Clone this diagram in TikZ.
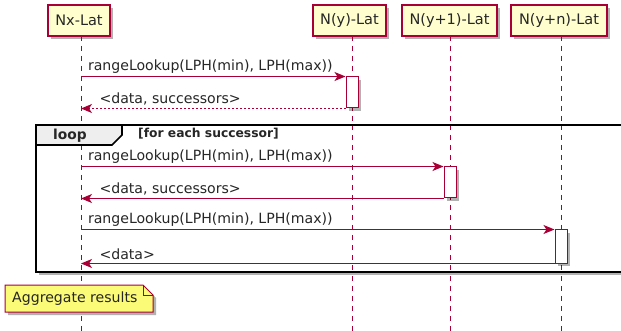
\documentclass[tikz,border=0pt]{standalone}
\usepackage{fontspec}
\setmainfont{DejaVu Sans}
\usetikzlibrary{shadows,arrows.meta}
\definecolor{pred}{HTML}{A80036}
\definecolor{pfill}{HTML}{FEFECE}
\definecolor{nfill}{HTML}{FBFB77}
\definecolor{hdrfill}{HTML}{EEEEEE}
\begin{document}
\begin{tikzpicture}[x=1pt,y=-1pt,
  shad/.style={drop shadow={shadow xshift=3pt,shadow yshift=-3pt,opacity=0.3,fill=black}},
  part/.style={draw=pred, fill=pfill, line width=1.1pt, minimum height=31pt, inner sep=0pt,
    font=\fontsize{14.5}{17}\selectfont, text=black!85, shad},
  life/.style={draw=pred, line width=0.9pt, dash pattern=on 5pt off 5pt},
  act/.style={draw=pred, fill=white, line width=1pt, minimum width=12pt, inner sep=0pt, shad},
  msg/.style={draw=pred, line width=1pt, -{Stealth[length=11pt,width=9pt,inset=3pt]}},
  ret/.style={msg, dash pattern=on 2pt off 2pt},
  lbl/.style={font=\fontsize{14.1}{16}\selectfont, text=black!85, inner sep=0pt},
  frm/.style={draw=black, line width=1.6pt}
]
\useasboundingbox (0,0) rectangle (621,331);
\fill[white] (0,0) rectangle (621,331);

% participants
\node[part, minimum width=62pt] (nx) at (79,20.5) {Nx-Lat};
\node[part, minimum width=73pt] (ny) at (349.5,20.5) {N(y)-Lat};
\node[part, minimum width=95pt] (ny1) at (449.5,20.5) {N(y+1)-Lat};
\node[part, minimum width=96pt] (nyn) at (559,20.5) {N(y+n)-Lat};

% lifelines
\coordinate (nxl) at (81,36);
\coordinate (nyl) at (352,36);
\coordinate (ny1l) at (450,36);
\coordinate (nynl) at (561,36);
\coordinate (nxb) at (81,331);
\coordinate (nyb) at (352,331);
\coordinate (ny1b) at (450,331);
\coordinate (nynb) at (561,331);
\draw[life] (nxl) -- (nxb);
\draw[life] (nyl) -- (nyb);
\draw[life] (ny1l) -- (ny1b);
\draw[life] (nynl) -- (nynb);

% loop frame (shadow + white interior)
\begin{scope}
\clip (0,0) rectangle (621,331);
\draw[frm, shad, fill=white] (36,125) rectangle (640,272);
\end{scope}
\draw[life] (81,125) -- (81,272);
\draw[life] (352,125) -- (352,272);
\draw[life] (450,125) -- (450,272);
\draw[life] (561,125) -- (561,272);
\begin{scope}
\clip (0,0) rectangle (621,331);
\draw[frm] (36,125) rectangle (640,272);
\end{scope}
\draw[frm, fill=hdrfill] (36,125) -- (122,125) -- (122,135) -- (112,145) -- (36,145) -- cycle;
\node[lbl, font=\fontsize{13.8}{16}\selectfont\bfseries] (looplbl) at (70,135.5) {loop};
\node[lbl, anchor=west, font=\fontsize{12.3}{14}\selectfont\bfseries] (cond) at (138,134) {[for each successor]};

% activations
\node[act, minimum height=31pt] (a1) at (352,92.5) {};
\node[act, minimum height=31pt] (a2) at (450,182.5) {};
\node[act, minimum height=33pt] (a3) at (561,246.5) {};

% messages
\draw[msg] (nxl |- a1.north west) -- (a1.north west)
  node[lbl, pos=0, anchor=south west, xshift=6.5pt, yshift=3pt] (m1) {rangeLookup(LPH(min), LPH(max))};
\draw[ret] (a1.south west) -- (nxl |- a1.south west)
  node[lbl, pos=1, anchor=south west, xshift=18pt, yshift=3pt] (r1) {<data, successors>};

\draw[msg] (nxl |- a2.north west) -- (a2.north west)
  node[lbl, pos=0, anchor=south west, xshift=6.5pt, yshift=3pt] (m2) {rangeLookup(LPH(min), LPH(max))};
\draw[msg] (a2.south west) -- (nxl |- a2.south west)
  node[lbl, pos=1, anchor=south west, xshift=18pt, yshift=3pt] (r2) {<data, successors>};

\draw[msg] (nxl |- a3.north west) -- (a3.north west)
  node[lbl, pos=0, anchor=south west, xshift=6.5pt, yshift=3pt] (m3) {rangeLookup(LPH(min), LPH(max))};
\draw[msg] (a3.south west) -- (nxl |- a3.south west)
  node[lbl, pos=1, anchor=south west, xshift=18pt, yshift=3pt] (r3) {<data>};

% note
\draw[draw=pred, fill=nfill, line width=1pt, shad] (5,285) -- (143,285) -- (153,295) -- (153,312) -- (5,312) -- cycle;
\draw[draw=pred, line width=1pt] (143,285) -- (143,295) -- (153,295);
\node[lbl, anchor=west] (note) at (12,299) {Aggregate results};
\end{tikzpicture}
\end{document}
